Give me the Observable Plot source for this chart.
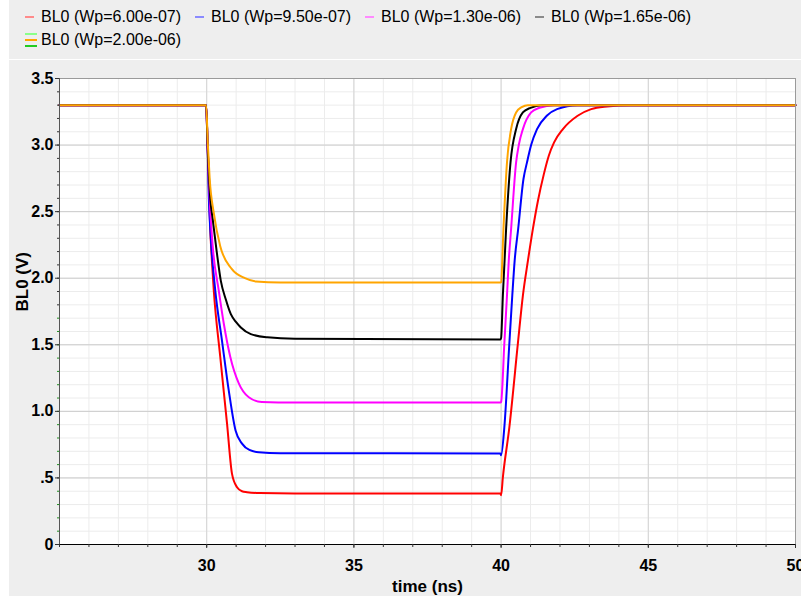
<!DOCTYPE html>
<html>
<head>
<meta charset="utf-8">
<script src="https://cdn.jsdelivr.net/npm/d3@7"></script>
<script src="https://cdn.jsdelivr.net/npm/@observablehq/plot@0.6"></script>
<style>
  html, body { margin: 0; padding: 0; background: #ffffff; }
  #wrap { position: absolute; left: 9px; top: 0; width: 792px; height: 596px; background: #eeeeee; overflow: hidden; }
  #legend { position: absolute; left: 0; top: 0; width: 792px; height: 59px; border-bottom: 1px solid #ffffff; font-family: "Liberation Sans", Arial, sans-serif; font-size: 16px; color: #000; }
  .lt { position: absolute; white-space: nowrap; line-height: 16px; }
  .sw { position: absolute; width: 9px; height: 2px; }
  #chart { position: absolute; left: 0; top: 60px; }
</style>
</head>
<body>
<div id="wrap">
  <div id="legend"></div>
  <div id="chart"></div>
</div>
<script>
// ---- data ----
const seriesLabels = ["BL0 (Wp=6.00e-07)", "BL0 (Wp=9.50e-07)", "BL0 (Wp=1.30e-06)", "BL0 (Wp=1.65e-06)", "BL0 (Wp=2.00e-06)"];
const seriesColors = ["#ff0000", "#0000ff", "#ff00ff", "#000000", "#ffa500"];
const legendSwatch = ["#ff8a8a", "#8a8aff", "#ff8aff", "#8a8a8a", "#ffa500"];

// time (ns), BL0 (V)
const red = [[25,3.30],[29.98,3.30],[30.03,3.0],[30.12,2.37],[30.18,2.12],[30.24,1.91],[30.46,1.41],[30.69,0.91],[30.86,0.53],[31.03,0.43],[31.2,0.40],[31.37,0.393],[31.8,0.386],[33,0.383],[39.98,0.383],[40.0,0.37],[40.06,0.505],[40.28,0.88],[40.57,1.51],[40.74,1.87],[40.91,2.13],[41.08,2.37],[41.25,2.58],[41.45,2.78],[41.62,2.92],[41.8,3.02],[42.1,3.12],[42.6,3.22],[43.06,3.27],[43.6,3.29],[44.4,3.30],[50,3.30]];
const blue = [[25,3.30],[29.98,3.30],[30.03,3.0],[30.07,2.62],[30.14,2.3],[30.29,1.91],[30.52,1.53],[30.75,1.156],[30.98,0.856],[31.2,0.758],[31.45,0.71],[31.77,0.693],[32.5,0.686],[39.98,0.683],[40.0,0.67],[40.11,0.88],[40.28,1.51],[40.38,1.87],[40.46,2.13],[40.58,2.37],[40.76,2.745],[40.88,2.87],[41.02,3.0],[41.22,3.12],[41.55,3.22],[41.9,3.27],[42.6,3.30],[50,3.30]];
const magenta = [[25,3.30],[29.98,3.30],[30.03,3.0],[30.1,2.6],[30.2,2.25],[30.41,1.907],[30.58,1.66],[30.8,1.41],[31.09,1.21],[31.43,1.106],[31.87,1.07],[33,1.066],[39.98,1.066],[40.0,1.07],[40.11,1.51],[40.2,1.87],[40.26,2.13],[40.34,2.37],[40.51,2.87],[40.6,3.0],[40.74,3.12],[41.02,3.245],[41.3,3.28],[41.8,3.30],[50,3.30]];
const black = [[25,3.30],[29.98,3.30],[30.03,3.0],[30.12,2.6],[30.2,2.45],[30.34,2.2],[30.48,1.98],[30.65,1.84],[30.82,1.73],[31.0,1.67],[31.16,1.63],[31.5,1.58],[32.06,1.556],[33,1.545],[39.98,1.54],[40.0,1.55],[40.06,1.87],[40.17,2.37],[40.32,2.87],[40.51,3.12],[40.74,3.245],[41.0,3.28],[41.36,3.30],[50,3.30]];
const orange = [[25,3.30],[29.98,3.30],[30.04,3.0],[30.1,2.75],[30.24,2.49],[30.46,2.24],[30.85,2.07],[31.3,2.0],[31.67,1.975],[32.5,1.967],[39.98,1.967],[40.0,1.97],[40.08,2.37],[40.2,2.87],[40.34,3.12],[40.51,3.245],[40.7,3.285],[40.91,3.30],[50,3.30]];
const seriesData = [red, blue, magenta, black, orange];

const yMajor = [0, 0.5, 1.0, 1.5, 2.0, 2.5, 3.0, 3.5];
const yMinor = d3.range(0, 36).map(i => i / 10);
const xMajor = [30, 35, 40, 45, 50];
const xMinor = d3.range(25, 51);

// ---- legend (positions relative to the grey panel, which starts 9px from the page edge) ----
const legend = document.getElementById("legend");
const legPos = [[16, 32, 16, 9], [186, 202, 16, 9], [356, 372, 16, 9], [526, 542, 16, 9], [16, 32, 39, 32]];
seriesLabels.forEach((lab, i) => {
  const [sx, tx, sy, ty] = legPos[i];
  if (i < 4) {
    const s = document.createElement("div");
    s.className = "sw"; s.style.left = sx + "px"; s.style.top = sy + "px"; s.style.background = legendSwatch[i];
    legend.appendChild(s);
  } else {
    [["#8aff8a", 33], ["#ffa500", 39], ["#22cc22", 45]].forEach(([c, y]) => {
      const s = document.createElement("div");
      s.className = "sw"; s.style.left = sx + "px"; s.style.top = y + "px"; s.style.width = "12px"; s.style.height = "1.5px"; s.style.background = c;
      legend.appendChild(s);
    });
  }
  const t = document.createElement("div");
  t.className = "lt"; t.style.left = tx + "px"; t.style.top = ty + "px"; t.textContent = lab;
  legend.appendChild(t);
});

// ---- chart ----
const rows = seriesData.flatMap((arr, i) => arr.map(([t, v]) => ({t, v, s: seriesLabels[i]})));
const yFmt = d => d === 0 ? "0" : d < 1 ? String(d).replace(/^0/, "") : d.toFixed(1);
const greenTick = d => d <= 1.7 && d !== 0 && d !== 0.5;

const chart = Plot.plot({
  width: 792,
  height: 536,
  marginLeft: 50,
  marginRight: 6,
  marginTop: 18,
  marginBottom: 52,
  style: {background: "transparent", fontFamily: "'Liberation Sans', Arial, sans-serif", color: "#000"},
  x: {domain: [25, 50]},
  y: {domain: [0, 3.5]},
  color: {domain: seriesLabels, range: seriesColors},
  marks: [
    Plot.frame({fill: "#ffffff", stroke: "none"}),
    Plot.gridY(yMinor, {stroke: "#ececec", strokeOpacity: 1}),
    Plot.gridX(xMinor, {stroke: "#ececec", strokeOpacity: 1}),
    Plot.gridY(yMajor, {stroke: "#cccccc", strokeOpacity: 1}),
    Plot.gridX(xMajor, {stroke: "#d4d4d4", strokeOpacity: 1}),
    ...seriesLabels.map(lab => Plot.line(rows.filter(r => r.s === lab), {x: "t", y: "v", stroke: "s", strokeWidth: 2, curve: "monotone-x"})),
    Plot.ruleY([3.5], {stroke: "#9a9a9a"}),
    Plot.ruleX([50], {stroke: "#9a9a9a"}),
    Plot.ruleX([25], {stroke: "#555555"}),
    Plot.ruleY([0], {stroke: "#000000"}),
    Plot.axisY(yMinor.filter(d => !greenTick(d)), {tickSize: 2, text: null, stroke: "#333", label: null}),
    Plot.axisY(yMinor.filter(greenTick), {tickSize: 2, text: null, stroke: "#1f8f1f", label: null}),
    Plot.axisY(yMajor, {tickSize: 4, tickPadding: 2, tickFormat: yFmt, fontSize: 16, fontWeight: "bold", stroke: "#333", label: null}),
    Plot.axisX(xMinor, {tickSize: 3, text: null, stroke: "#333", label: null}),
    Plot.axisX(xMajor, {tickSize: 4, tickPadding: 11, tickFormat: d => String(d), fontSize: 16, fontWeight: "bold", stroke: "#333", label: null}),
    Plot.text(["time (ns)"], {frameAnchor: "bottom", dy: 47, fontSize: 17, fontWeight: "bold", fill: "#000"}),
    Plot.text(["BL0 (V)"], {frameAnchor: "left", dx: -37, rotate: -90, fontSize: 17, fontWeight: "bold", fill: "#000"})
  ]
});
document.getElementById("chart").appendChild(chart);
</script>
</body>
</html>
